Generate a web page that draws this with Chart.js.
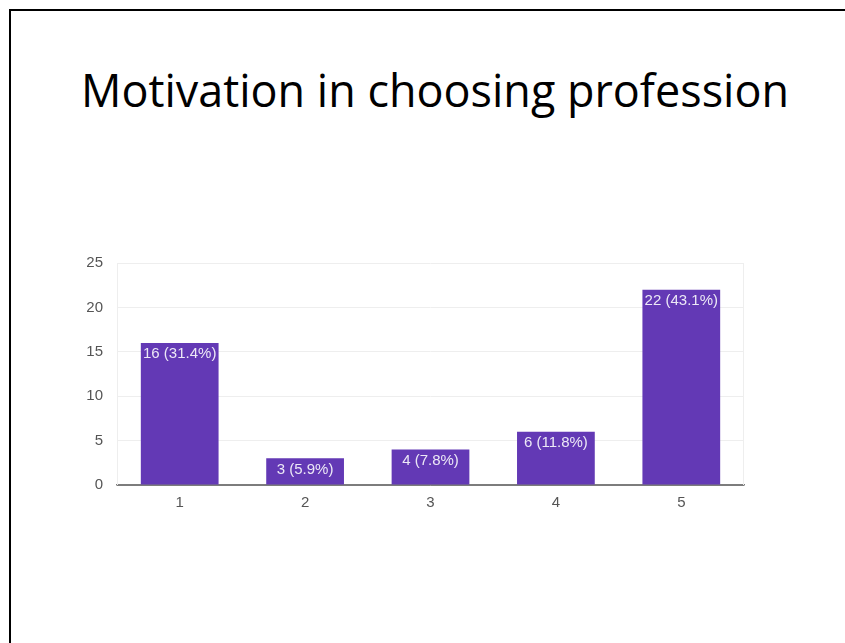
<!DOCTYPE html>
<html>
<head>
<meta charset="utf-8">
<script src="https://cdn.jsdelivr.net/npm/chart.js@4/dist/chart.umd.min.js"></script>
<style>
  html, body { margin: 0; padding: 0; background: #ffffff; }
  body { width: 845px; height: 643px; position: relative; overflow: hidden; }
  #frame { position: absolute; left: 9px; top: 9px; width: 840px; height: 640px;
           border-top: 2px solid #000; border-left: 2px solid #000; box-sizing: border-box; }
  #title { position: absolute; left: 0; top: 66px; width: 870px; text-align: center;
           font-family: "Open Sans", sans-serif; font-size: 46px; line-height: 46px;
           color: #000; white-space: nowrap; transform-origin: 435px 50%; }
  #title span { display: inline-block; }
  #wrap { position: absolute; left: 0; top: 0; width: 845px; height: 643px; }
</style>
</head>
<body>
<div id="frame"></div>
<div id="title"><span id="titleText">Motivation in choosing profession</span></div>
<div id="wrap"><canvas id="c" width="845" height="643"></canvas></div>
<script>
const titleText = 'Motivation in choosing profession';
const categories = ['1', '2', '3', '4', '5'];
const counts = [16, 3, 4, 6, 22];
const percents = [31.4, 5.9, 7.8, 11.8, 43.1];
const yTickValues = [0, 5, 10, 15, 20, 25];

// fit title width to reference
(function () {
  const span = document.getElementById('titleText');
  span.textContent = titleText;
  const w = span.getBoundingClientRect().width;
  const s = 708 / w;
  document.getElementById('title').style.transform = 'scaleX(' + s + ')';
})();

const barLabels = {
  id: 'barLabels',
  afterDatasetsDraw(chart) {
    const ctx = chart.ctx;
    const meta = chart.getDatasetMeta(0);
    ctx.save();
    ctx.font = '15px "Liberation Sans", Arial, sans-serif';
    ctx.fillStyle = '#ece8f6';
    ctx.textAlign = 'center';
    ctx.textBaseline = 'middle';
    meta.data.forEach((bar, i) => {
      const txt = counts[i] + ' (' + percents[i] + '%)';
      ctx.fillText(txt, bar.x, bar.y + 11);
    });
    ctx.restore();
  }
};

const sideLines = {
  id: 'sideLines',
  beforeDatasetsDraw(chart) {
    const { ctx, chartArea } = chart;
    ctx.save();
    ctx.strokeStyle = '#eeeeee';
    ctx.lineWidth = 1;
    ctx.beginPath();
    ctx.moveTo(Math.round(chartArea.left) + 0.5, chartArea.top);
    ctx.lineTo(Math.round(chartArea.left) + 0.5, chartArea.bottom);
    ctx.moveTo(Math.round(chartArea.right) - 0.5, chartArea.top);
    ctx.lineTo(Math.round(chartArea.right) - 0.5, chartArea.bottom);
    ctx.stroke();
    ctx.restore();
  }
};

new Chart(document.getElementById('c'), {
  type: 'bar',
  data: {
    labels: categories,
    datasets: [{
      data: counts,
      backgroundColor: '#6339b5',
      borderWidth: 0,
      categoryPercentage: 1.0,
      barPercentage: 0.62
    }]
  },
  options: {
    responsive: false,
    animation: false,
    layout: { padding: { left: 0, right: 101, top: 263, bottom: 118 } },
    plugins: {
      legend: { display: false },
      tooltip: { enabled: false },
      title: { display: false }
    },
    scales: {
      x: {
        grid: { display: false, drawTicks: false },
        border: { display: true, color: '#7d7d7d', width: 1.5 },
        ticks: {
          color: '#555555',
          padding: 9,
          font: { family: '"Liberation Sans", Arial, sans-serif', size: 15 }
        },
        afterFit(scale) { scale.height = 40; }
      },
      y: {
        min: 0,
        max: 25,
        afterBuildTicks(scale) { scale.ticks = yTickValues.map(v => ({ value: v })); },
        grid: {
          drawTicks: false,
          color: (ctx) => (ctx.tick && ctx.tick.value === 0) ? '#7d7d7d' : '#eeeeee',
          lineWidth: 1
        },
        border: { display: false },
        ticks: {
          color: '#555555',
          padding: 14,
          font: { family: '"Liberation Sans", Arial, sans-serif', size: 15 }
        },
        afterFit(scale) { scale.width = 117; }
      }
    }
  },
  plugins: [sideLines, barLabels]
});
</script>
</body>
</html>
